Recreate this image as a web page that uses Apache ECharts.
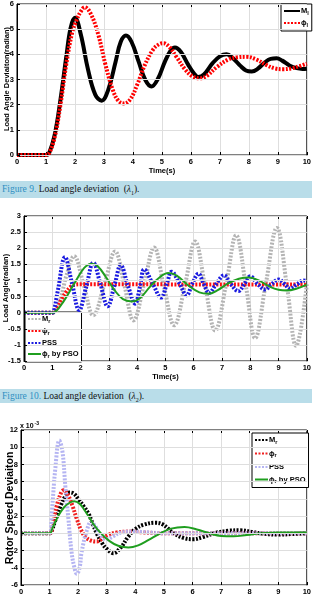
<!DOCTYPE html>
<html>
<head>
<meta charset="utf-8">
<script src="https://cdn.jsdelivr.net/npm/echarts@6/dist/echarts.min.js"></script>
<style>
  body { margin: 0; background: #fff; }
  #wrap { position: relative; width: 314px; height: 596px; }
  #chart { width: 314px; height: 596px; }
  .cap {
    position: absolute; left: 0; width: 312px;
    background: #b9dde9;
    font-family: "Liberation Serif", "DejaVu Serif", serif;
    font-size: 9.5px; color: #111;
    padding-left: 2px; box-sizing: border-box;
  }
  .cap .fig { color: #2e8fc2; }
  .cap sub { font-size: 6px; }
</style>
</head>
<body>
<div id="wrap">
  <div id="chart"></div>
  <div class="cap" style="top:181px;height:17px;line-height:17px;"><span class="fig">Figure 9.</span> Load angle deviation &nbsp;(<i>λ</i><sub>1</sub>).</div>
  <div class="cap" style="top:389px;height:14px;line-height:14px;"><span class="fig">Figure 10.</span> Load angle deviation &nbsp;(<i>λ</i><sub>2</sub>).</div>
</div>
<script>
// ---- figure 9 : load angle deviation lambda1 ----
var ml1 = [[0,0],[1,0],[1.1,0.05],[1.3,0.8],[1.5,2.2],[1.7,3.9],[1.85,5.05],[2.0,5.45],[2.2,4.8],[2.45,3.4],[2.7,2.4],[2.92,2.16],[3.15,2.6],[3.4,3.7],[3.58,4.5],[3.76,4.75],[3.95,4.5],[4.2,3.7],[4.42,3.0],[4.64,2.72],[4.85,3.0],[5.1,3.7],[5.3,4.15],[5.45,4.27],[5.65,4.1],[5.9,3.6],[6.1,3.25],[6.25,3.1],[6.45,3.2],[6.75,3.65],[7.0,3.92],[7.23,4.0],[7.45,3.85],[7.7,3.55],[7.9,3.36],[8.1,3.32],[8.3,3.42],[8.55,3.68],[8.75,3.82],[8.96,3.84],[9.15,3.75],[9.4,3.56],[9.65,3.45],[9.85,3.42],[10,3.43]]
var phl1 = [[0,0],[1,0],[1.1,0.05],[1.3,0.7],[1.5,2.0],[1.7,3.6],[1.9,4.85],[2.05,5.35],[2.2,5.7],[2.34,5.87],[2.55,5.6],[2.8,4.8],[3.05,3.6],[3.3,2.6],[3.5,2.15],[3.69,2.05],[3.9,2.2],[4.15,2.8],[4.4,3.55],[4.7,4.2],[4.9,4.4],[5.05,4.44],[5.25,4.3],[5.5,3.9],[5.8,3.4],[6.05,3.13],[6.31,3.05],[6.55,3.15],[6.9,3.5],[7.3,3.8],[7.6,3.88],[7.93,3.9],[8.25,3.8],[8.6,3.58],[8.9,3.44],[9.19,3.41],[9.5,3.45],[9.75,3.53],[10,3.63]]

// ---- figure 10 : load angle deviation lambda2 ----
var mr2 = [[0,0],[1,0],[1.1,0.02],[1.3,0.45],[1.5,1.15],[1.77,1.75],[2.1,0.9],[2.45,-0.08],[2.85,0.9],[3.22,1.9],[3.55,0.85],[3.87,-0.24],[4.25,0.9],[4.6,2.02],[4.95,0.8],[5.31,-0.39],[5.7,0.9],[6.05,2.21],[6.4,0.85],[6.76,-0.55],[7.15,0.9],[7.5,2.4],[7.85,0.8],[8.17,-0.79],[8.55,0.9],[8.94,2.63],[9.3,0.8],[9.62,-1.03],[10,0.88]]
var phr2 = [[0,0],[1,0],[1.05,0.02],[1.2,0.2],[1.35,0.45],[1.5,0.65],[1.65,0.8],[1.8,0.87],[2,0.88],[10,0.87]]
var pss2 = [[0,0],[1,0],[1.05,0.02],[1.2,0.7],[1.45,1.72],[1.7,0.9],[1.95,0.08],[2.2,0.8],[2.45,1.55],[2.7,0.9],[2.96,0.2],[3.2,0.85],[3.42,1.47],[3.67,0.85],[3.93,0.28],[4.1,0.8],[4.25,1.34],[4.55,0.9],[4.85,0.47],[5.05,0.9],[5.22,1.27],[5.5,0.9],[5.75,0.54],[5.95,0.9],[6.17,1.21],[6.35,0.9],[6.55,0.62],[6.8,0.9],[7.07,1.16],[7.3,0.9],[7.58,0.67],[7.8,0.9],[8.0,1.13],[8.25,0.9],[8.52,0.72],[8.75,0.88],[9.0,1.03],[9.2,0.9],[9.41,0.75],[9.65,0.88],[9.88,1.0],[10,0.98]]
var pso2 = [[0,0],[1,0],[1.1,0.02],[1.4,0.35],[1.74,0.85],[2.05,1.3],[2.2,1.45],[2.39,1.52],[2.6,1.45],[2.9,1.1],[3.2,0.7],[3.5,0.42],[3.81,0.35],[4.1,0.45],[4.45,0.8],[4.8,1.1],[5.1,1.23],[5.4,1.15],[5.8,0.85],[6.2,0.63],[6.52,0.59],[6.85,0.7],[7.2,0.9],[7.6,1.05],[7.94,1.09],[8.3,1.0],[8.7,0.8],[9.0,0.71],[9.3,0.69],[9.65,0.75],[10,0.87]]

// ---- rotor speed deviation (x 10^-3) ----
var mr3 = [[0,0],[1,0],[1.05,0.1],[1.2,1.5],[1.4,3.3],[1.55,4.3],[1.7,4.75],[1.85,4.6],[2.0,4.0],[2.2,3.1],[2.36,2.3],[2.5,1.2],[2.65,0],[2.85,-1.2],[3.0,-1.8],[3.23,-2.3],[3.5,-1.6],[3.75,-0.4],[4.0,0.5],[4.3,1.0],[4.69,1.23],[4.95,1.05],[5.35,0],[5.7,-0.55],[6.03,-0.68],[6.35,-0.45],[6.8,0.05],[7.25,0.3],[7.67,0.35],[8.1,0.15],[8.5,-0.05],[9.0,-0.15],[9.5,-0.08],[10,0]]
var phr3 = [[0,0],[1,0],[1.1,1.0],[1.25,3.2],[1.42,4.85],[1.5,5.0],[1.65,4.4],[1.8,3.2],[1.95,1.7],[2.1,0.4],[2.25,-0.4],[2.45,-0.85],[2.65,-0.95],[2.85,-0.6],[3.05,-0.2],[3.35,0.1],[3.8,0.2],[4.3,0.1],[5,0],[10,0]]
var pss3 = [[0,0],[1,0],[1.08,2.5],[1.2,7.5],[1.34,10.77],[1.45,9.5],[1.55,5.5],[1.65,2.0],[1.77,-2.2],[1.87,-4.0],[1.95,-4.7],[2.05,-4.0],[2.12,-2.2],[2.3,0.3],[2.45,1.3],[2.6,0.8],[2.8,-0.3],[3.0,-0.7],[3.2,-0.4],[3.5,0.1],[3.9,0.2],[4.5,0.1],[5,0],[10,0]]
var pso3 = [[0,0],[1,0],[1.1,0.6],[1.3,2.0],[1.5,3.0],[1.7,3.55],[1.86,3.73],[2.05,3.45],[2.2,2.8],[2.36,2.0],[2.55,1.0],[2.8,0],[3.1,-0.9],[3.4,-1.45],[3.76,-1.65],[4.1,-1.4],[4.45,-0.8],[4.87,0],[5.25,0.55],[5.72,0.73],[6.15,0.45],[6.6,0],[7.0,-0.3],[7.43,-0.35],[7.9,-0.2],[8.4,0],[9.0,0.1],[10,0.1]]

var legendText = {
  Ml: 'M{s|l}', Pl: 'ϕ{s|l}',
  Mr2: 'M{s|r}', Pr2: 'ϕ{s|r}', PSS2: 'PSS', PSO2: 'ϕ{s|r} by PSO',
  Mr3: 'M{s|r}', Pr3: 'ϕ{s|r}', PSS3: 'PSS', PSO3: 'ϕ{s|r} by PSO'
}

var font = 'Liberation Sans, Arial, sans-serif'
var chart = echarts.init(document.getElementById('chart'))

function xAx (idx, name) {
  return {
    type: 'value', gridIndex: idx, min: 0, max: 10, interval: 1,
    name: name, nameLocation: 'middle', nameGap: 12,
    nameTextStyle: { fontFamily: font, fontWeight: 'bold', fontSize: 7.5, color: '#000' },
    axisLine: { onZero: false, lineStyle: { color: '#000' } },
    axisTick: { inside: true, length: 3, lineStyle: { color: '#000' } },
    axisLabel: { fontFamily: font, fontWeight: 'bold', fontSize: 7.5, color: '#000', margin: 3 },
    splitLine: { lineStyle: { color: '#dedede' } }
  }
}
function yAx (idx, min, max, step) {
  return {
    type: 'value', gridIndex: idx, min: min, max: max, interval: step, z: 6,
    axisLine: { onZero: false, lineStyle: { color: '#000' } },
    axisTick: { inside: true, length: 3, lineStyle: { color: '#000' } },
    axisLabel: { fontFamily: font, fontWeight: 'bold', fontSize: 7.5, color: '#000', margin: 3, hideOverlap: false, showMinLabel: true, showMaxLabel: true },
    splitLine: { lineStyle: { color: '#dedede' } }
  }
}
// mirrored ticks on top / right like matlab
function xTop (idx) {
  return { type: 'value', gridIndex: idx, position: 'top', min: 0, max: 10, interval: 1,
    axisLine: { show: false, onZero: false }, axisLabel: { show: false }, splitLine: { show: false },
    axisTick: { inside: true, length: 3, lineStyle: { color: '#000' } } }
}
function yRight (idx, min, max, step) {
  return { type: 'value', gridIndex: idx, position: 'right', min: min, max: max, interval: step,
    axisLine: { show: false, onZero: false }, axisLabel: { show: false }, splitLine: { show: false },
    axisTick: { inside: true, length: 3, lineStyle: { color: '#000' } } }
}
// rotated y-axis title
function yName (text, x, y, size) {
  return {
    type: 'text', x: x, y: y, rotation: Math.PI / 2,
    style: { text: text, fill: '#000', font: 'bold ' + size + 'px ' + font, textAlign: 'center', textVerticalAlign: 'middle' }
  }
}

function line (name, idx, data, color, width, dash) {
  return {
    name: name, type: 'line', xAxisIndex: idx, yAxisIndex: idx,
    data: data, smooth: 0.4, symbol: 'none',
    lineStyle: { color: color, width: width, type: dash || 'solid', cap: 'butt' },
    itemStyle: { color: color }
  }
}

function legendBox (names, left, top, iw, gap) {
  return {
    data: names, left: left, top: top, orient: 'vertical',
    selectedMode: false, z: 3,
    backgroundColor: '#fff', borderColor: '#000', borderWidth: 1, borderRadius: 0,
    padding: [3, 3, 3, 2], itemGap: gap, itemWidth: iw, itemHeight: 6,
    itemStyle: { opacity: 0 },
    formatter: function (n) { return legendText[n] },
    textStyle: {
      fontFamily: font, fontWeight: 'bold', fontSize: 7.5, color: '#000', padding: [0, 0, 0, -4],
      rich: { s: { fontFamily: font, fontWeight: 'bold', fontSize: 5.5, verticalAlign: 'bottom', padding: [4, 0, 0, 0] } }
    }
  }
}

var dot = [2, 1.5]

var option = {
  animation: false,
  backgroundColor: '#fff',
  grid: [
    { left: 17, right: 7, top: 3, height: 152, show: true, borderColor: '#000', borderWidth: 1 },
    { left: 24, right: 7, top: 216, height: 145, show: true, borderColor: '#000', borderWidth: 1 },
    { left: 21, right: 7, top: 430, height: 156, show: true, borderColor: '#000', borderWidth: 1 }
  ],
  xAxis: [xAx(0, 'Time(s)'), xAx(1, 'Time(s)'), xAx(2, ''), xTop(0), xTop(1), xTop(2)],
  yAxis: [
    yAx(0, 0, 6, 1), yAx(1, -1.5, 3, 0.5), yAx(2, -6, 12, 2),
    yRight(0, 0, 6, 1), yRight(1, -1.5, 3, 0.5), yRight(2, -6, 12, 2)
  ],
  legend: [
    legendBox(['Ml', 'Pl'], 281, 4, 16, 3),
    legendBox(['Mr2', 'Pr2', 'PSS2', 'PSO2'], 25, 312, 13, 3),
    legendBox(['Mr3', 'Pr3', 'PSS3', 'PSO3'], 252, 433, 13, 4.5)
  ],
  graphic: [
    yName('Load Angle Deviaiton(radian)', 6.5, 79, 7.5),
    yName('Load Angle(radian)', 6, 288, 7.5),
    yName('Rotor Speed Deviaiton', 10, 508, 10.5),
    {
      type: 'text', left: 20, top: 421,
      style: {
        text: 'x 10{p|-3}', fill: '#000',
        font: 'bold 7px ' + font,
        rich: { p: { fontSize: 5, fontWeight: 'bold', fontFamily: font, padding: [0, 0, 5, 1] } }
      }
    }
  ],
  series: [
    line('Ml', 0, ml1, '#000', 4),
    line('Pl', 0, phl1, '#ff0000', 4, dot),

    line('Mr2', 1, mr2, '#b4b4b4', 4, dot),
    line('Pr2', 1, phr2, '#ff1010', 4, dot),
    line('PSS2', 1, pss2, '#1a1ae0', 4, dot),
    line('PSO2', 1, pso2, '#1f9e1f', 2),

    line('Mr3', 2, mr3, '#000', 4, dot),
    line('Pr3', 2, phr3, '#f02020', 4, dot),
    line('PSS3', 2, pss3, '#b4b4f2', 4, dot),
    line('PSO3', 2, pso3, '#1f9e1f', 2)
  ]
}
chart.setOption(option)
</script>
</body>
</html>
